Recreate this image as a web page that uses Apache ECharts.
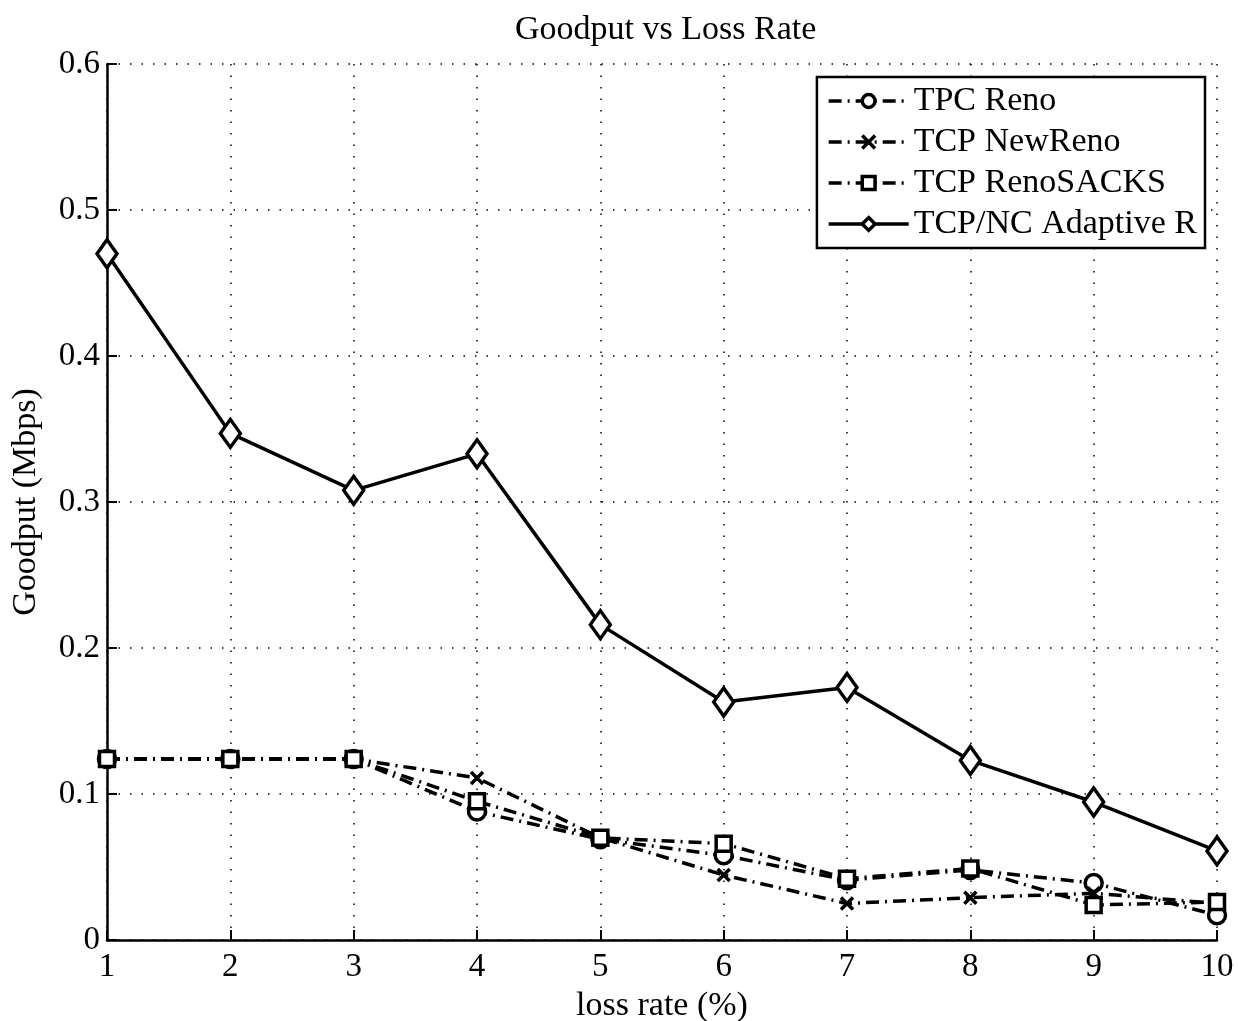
<!DOCTYPE html>
<html>
<head>
<meta charset="utf-8">
<script src="https://cdn.jsdelivr.net/npm/echarts@6/dist/echarts.min.js"></script>
<style>
html, body { margin: 0; padding: 0; background: #fff; }
#myChart { width: 1238px; height: 1021px; }
</style>
</head>
<body>
<div id="myChart"></div>
<script>
// loss rate (%)
var lossRate = [1, 2, 3, 4, 5, 6, 7, 8, 9, 10];
var yTicks = [0, 0.1, 0.2, 0.3, 0.4, 0.5, 0.6];

var renoData = [0.124, 0.124, 0.124, 0.088, 0.069, 0.058, 0.041, 0.048, 0.039, 0.017];
var newRenoData = [0.124, 0.124, 0.124, 0.111, 0.070, 0.0445, 0.025, 0.029, 0.032, 0.025];
var sacksData = [0.124, 0.124, 0.124, 0.095, 0.070, 0.066, 0.042, 0.049, 0.024, 0.026];
var adaptiveData = [0.470, 0.347, 0.308, 0.333, 0.216, 0.163, 0.173, 0.123, 0.0945, 0.061];

var seriesNames = ["TPC Reno", "TCP NewReno", "TCP RenoSACKS", "TCP/NC Adaptive R"];

function pairs(vals) {
  return vals.map(function (v, i) { return [lossRate[i], v]; });
}

var font = "Liberation Serif";
var dashDot = [13, 6, 2, 6];

function mkSeries(name, vals, symbol, size, dashed) {
  return {
    name: name,
    type: "line",
    data: pairs(vals),
    symbol: symbol,
    symbolSize: size,
    showAllSymbol: true,
    lineStyle: { color: "#000", width: 3.5, type: dashed ? dashDot : "solid" },
    itemStyle: { color: "#fff", borderColor: "#000", borderWidth: 3.5 },
    emphasis: { disabled: true },
    z: dashed ? 2 : 3
  };
}

var el = document.getElementById("myChart");
var myChart = echarts.init(el, null, { renderer: "canvas" });

var option = {
  animation: false,
  backgroundColor: "#fff",
  title: {
    text: "Goodput vs Loss Rate",
    left: 510,
    top: 8,
    textStyle: { fontFamily: font, fontSize: 34, fontWeight: "normal", color: "#000" }
  },
  grid: { left: 107, right: 21, top: 64, bottom: 81, containLabel: false, outerBoundsMode: "none" },
  legend: {
    orient: "vertical",
    right: 33,
    top: 77,
    itemWidth: 80,
    itemHeight: 16,
    itemGap: 7,
    padding: [7, 8, 7, 10],
    borderColor: "#000",
    borderWidth: 2.5,
    backgroundColor: "#fff",
    lineStyle: { width: 3.5 },
    itemStyle: { borderWidth: 3.5 },
    textStyle: { fontFamily: font, fontSize: 34, color: "#000" },
    data: seriesNames
  },
  xAxis: {
    type: "value",
    min: 1,
    max: 10,
    interval: 1,
    name: "loss rate (%)",
    nameLocation: "middle",
    nameGap: 39,
    nameTextStyle: { fontFamily: font, fontSize: 34, color: "#000" },
    axisLine: { show: true, onZero: false, lineStyle: { color: "#000", width: 2.5 } },
    axisTick: { show: true, inside: true, length: 10, lineStyle: { color: "#000", width: 2 } },
    axisLabel: { fontFamily: font, fontSize: 33, color: "#000", margin: 11 },
    splitLine: { show: true, lineStyle: { color: "#000", width: 1.5, type: [1.5, 10] } }
  },
  yAxis: {
    type: "value",
    min: 0,
    max: 0.6,
    interval: 0.1,
    name: "Goodput (Mbps)",
    nameLocation: "middle",
    nameGap: 64,
    nameTextStyle: { fontFamily: font, fontSize: 34, color: "#000" },
    axisLine: { show: true, lineStyle: { color: "#000", width: 2.5 } },
    axisTick: { show: true, inside: true, length: 10, lineStyle: { color: "#000", width: 2 } },
    axisLabel: {
      fontFamily: font, fontSize: 33, color: "#000", margin: 7,
      formatter: function (v) {
        var t = yTicks.find(function (y) { return Math.abs(y - v) < 1e-9; });
        return t === undefined ? "" : String(t);
      }
    },
    splitLine: { show: true, lineStyle: { color: "#000", width: 1.5, type: [1.5, 10] } }
  },
  series: [
    mkSeries(seriesNames[0], renoData, "circle", 17, true),
    mkSeries(seriesNames[1], newRenoData, "path://M0,0 L10,10 M10,0 L0,10", 12, true),
    mkSeries(seriesNames[2], sacksData, "rect", 15, true),
    mkSeries(seriesNames[3], adaptiveData, "diamond", [20, 28], false)
  ]
};
myChart.setOption(option);
</script>
</body>
</html>
